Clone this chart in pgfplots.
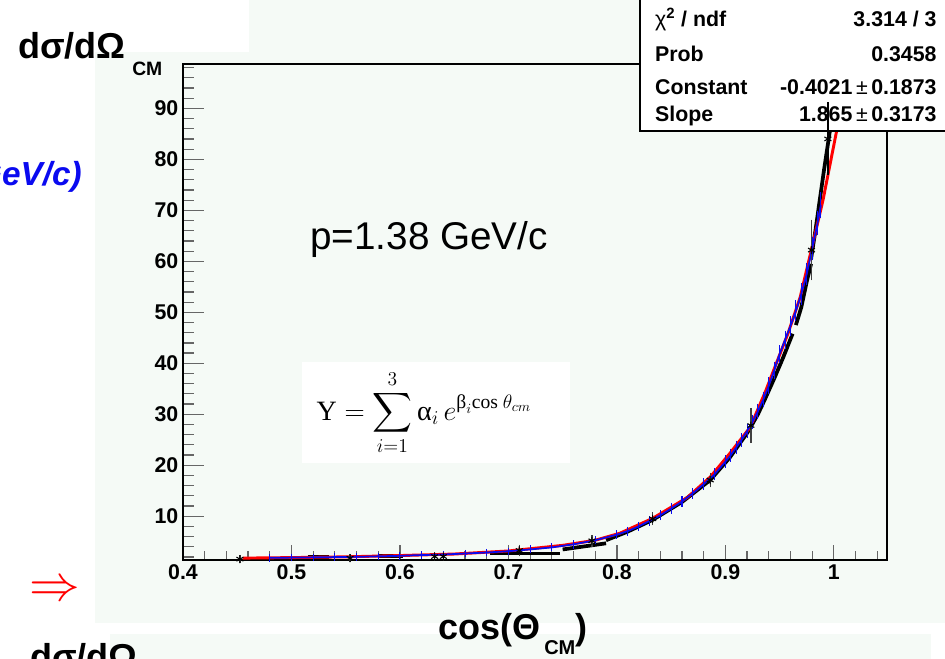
\RequirePackage{fix-cm}
\documentclass[border=0pt]{standalone}
\usepackage{amsmath}
\usepackage{fontspec}
\setmainfont{Liberation Sans}
\newfontfamily\serif{Liberation Serif}
\usepackage{pgfplots}
\pgfplotsset{compat=1.18}
\definecolor{bg}{RGB}{245,250,246}
\definecolor{rootblue}{RGB}{10,10,240}
\begin{document}
\begin{tikzpicture}
\path[use as bounding box] (0,0) rectangle (708.75pt,494.25pt);
\clip (0,0) rectangle (708.75pt,494.25pt);
\begin{scope}[x=0.75pt,y=0.75pt]
  \fill[white] (0,0) rectangle (945,659);
  \fill[bg] (95,607) rectangle (945,36);
  \fill[bg] (249,659) rectangle (945,607);
  \fill[bg] (110,25) rectangle (931,0);
\end{scope}
\begin{axis}[
  at={(137.25pt,74.25pt)}, anchor=south west,
  scale only axis, width=528pt, height=372pt,
  xmin=0.4, xmax=1.049, ymin=1.43, ymax=98.69,
  clip=false,
  axis line style={black, line width=0.9pt},
  tick align=inside, tick pos=left,
  xtick={0.4,0.5,0.6,0.7,0.8,0.9,1},
  minor xtick={0.42,0.44,...,1.045},
  ytick={10,20,...,90},
  minor ytick={2,4,...,98},
  tick style={black!60, line width=0.9pt},
  xtick style={/pgfplots/major tick length=11pt,/pgfplots/minor tick length=6.5pt},
  ytick style={/pgfplots/major tick length=15.5pt,/pgfplots/minor tick length=8pt},
  ticklabel style={font=\fontsize{16}{16}\selectfont\bfseries},
  /pgf/number format/assume math mode=true,
]
% black thick segments
\addplot[black, line width=2.8pt] coordinates {(0.515,2.05) (0.535,2.05)};
\addplot[black, line width=2.8pt] coordinates {(0.58,2.25) (0.603,2.25)};
\addplot[black, line width=2.8pt] coordinates {(0.683,2.7) (0.748,2.7)};
\addplot[black, line width=2.8pt] coordinates {(0.75,3.5) (0.79,4.7)};
\addplot[black, line width=2.8pt] coordinates {(0.79,5.3) (0.81,7.0) (0.833,9.3) (0.86,12.8) (0.886,17.1) (0.904,21.5) (0.92,26.3) (0.93,30) (0.937,33.2) (0.945,37) (0.953,41) (0.962,45.8)};
\addplot[black, line width=2.8pt] coordinates {(0.965,47.5) (0.970,51) (0.975,56) (0.979,59.5)};
\addplot[black, line width=2.8pt] coordinates {(0.979,60.5) (0.983,66) (0.987,72) (0.991,78) (0.9963,85.5)};
% red fit
\addplot[red, line width=2.2pt] coordinates {
(0.455,1.8) (0.50,1.9) (0.55,2.05) (0.60,2.3) (0.65,2.6) (0.70,3.2) (0.75,4.3)
(0.78,5.3) (0.803,6.7) (0.833,9.6) (0.865,13.7) (0.886,17.7) (0.904,22.3)
(0.923,27.5) (0.937,34.5) (0.947,40) (0.958,46) (0.969,53) (0.979,62)
(0.990,72) (1.0025,85.5)};
% blue data
\addplot[rootblue, line width=1.3pt,
  error bars/.cd, y dir=both, y explicit,
  error bar style={line width=0.8pt, rootblue},
  error mark options={rootblue, mark size=2pt, line width=0.8pt}]
coordinates {
(0.48,1.85) +- (0,0.2) (0.50,1.9) +- (0,0.2) (0.52,1.95) +- (0,0.2)
(0.54,2.0) +- (0,0.2) (0.56,2.05) +- (0,0.2) (0.58,2.15) +- (0,0.2)
(0.60,2.25) +- (0,0.2) (0.62,2.4) +- (0,0.2) (0.64,2.5) +- (0,0.2)
(0.66,2.7) +- (0,0.2) (0.68,2.9) +- (0,0.2) (0.70,3.15) +- (0,0.2)
(0.72,3.5) +- (0,0.25) (0.74,3.9) +- (0,0.25) (0.76,4.5) +- (0,0.3)
(0.78,5.3) +- (0,0.3) (0.80,6.4) +- (0,0.35) (0.81,7.1) +- (0,0.35)
(0.82,8.0) +- (0,0.4) (0.83,9.1) +- (0,0.4) (0.84,10.2) +- (0,0.45)
(0.85,11.5) +- (0,0.5) (0.86,12.9) +- (0,0.5) (0.87,14.5) +- (0,0.55)
(0.88,16.3) +- (0,0.6) (0.89,18.2) +- (0,0.65) (0.90,20.7) +- (0,0.7)
(0.905,22.0) +- (0,0.75) (0.91,23.5) +- (0,0.8) (0.915,25.0) +- (0,0.8)
(0.92,26.7) +- (0,0.85) (0.925,28.5) +- (0,0.9) (0.93,30.6) +- (0,0.95)
(0.935,32.9) +- (0,1.0) (0.94,35.6) +- (0,1.1) (0.945,38.6) +- (0,1.2)
(0.95,41.8) +- (0,1.25) (0.955,44.6) +- (0,1.3) (0.96,47.3) +- (0,1.4)
(0.965,50.3) +- (0,1.5) (0.97,53.6) +- (0,1.6) (0.975,57.5) +- (0,1.7)
(0.98,62.5) +- (0,1.8) (0.985,67.5) +- (0,1.9) (0.988,71) +- (0,2.0)};
% black points
\addplot[only marks, mark=asterisk, mark size=3pt, black, mark options={line width=0.8pt},
  error bars/.cd, y dir=both, y explicit,
  error bar style={line width=1pt, black!75},
  error mark options={black!75, mark size=2.5pt, line width=1pt}]
coordinates {
(0.4525,1.6) +- (0,0.2) (0.554,1.8) +- (0,0.2) (0.632,2.1) +- (0,0.2)
(0.640,2.1) +- (0,0.2) (0.71,3.3) +- (0,0.5) (0.777,5.2) +- (0,0.5)
(0.833,9.5) +- (0,0.6) (0.886,17.1) +- (0,0.8) (0.9235,27.8) +- (0,2.8)
(0.9794,62.2) +- (0,5.3)};
% stats box
\draw[fill=white, line width=0.9pt] (axis cs:0.8212,85.55) rectangle (axis cs:1.12,113);
\begin{scope}[every node/.style={font=\fontsize{16}{16}\selectfont\bfseries, inner sep=0pt}]
\node[anchor=base west] at (axis cs:0.835,106.1) {{\mdseries χ}\textsuperscript{2} / ndf};
\node[anchor=base east] at (axis cs:1.0949,106.1) {3.314 / 3};
\node[anchor=base west] at (axis cs:0.835,99.1) {Prob};
\node[anchor=base east] at (axis cs:1.0949,99.1) {0.3458};
\node[anchor=base west] at (axis cs:0.835,92.8) {Constant};
\node[anchor=base east] at (axis cs:1.0949,92.8) {-0.4021{\mdseries\,±}\,0.1873};
\node[anchor=base west] at (axis cs:0.835,87.5) {Slope};
\node[anchor=base east] at (axis cs:1.0949,87.5) {1.865{\mdseries\,±}\,0.3173};
\end{scope}
% top black point drawn over the box
\addplot[only marks, mark=asterisk, mark size=3pt, black, mark options={line width=0.8pt},
  error bars/.cd, y dir=both, y explicit,
  error bar style={line width=1pt, black},
  error mark options={black, mark size=2.5pt, line width=1pt}]
coordinates {(0.9945,84) +- (0,6.5)};
\end{axis}
\begin{scope}[x=0.75pt,y=0.75pt]
  \node[anchor=base west, inner sep=0pt] at (18,600) {\fontsize{27}{27}\selectfont\bfseries dσ/dΩ};
  \node[anchor=base west, inner sep=0pt] at (132,583) {\fontsize{14.5}{14.5}\selectfont\bfseries CM};
  \node[anchor=base east, inner sep=0pt, text=rootblue] at (82,473) {\fontsize{25}{25}\selectfont\bfseries\itshape (1.38 GeV/c)};
  \node[anchor=base west, inner sep=0pt] at (310,409) {\fontsize{29}{29}\selectfont p=1.38 GeV/c};
  \fill[white] (302,297) rectangle (570,196);
  \node[inner sep=0pt] at (424,246) {\fontsize{21}{25}\selectfont $\displaystyle \text{\serif Y}=\sum_{i=1}^{3}\text{\serif α}_i\, e^{\text{\serif β}_i\text{\serif cos }\theta_{cm}}$};
  \node[anchor=west, inner sep=0pt, text=red] at (29,68) {\fontsize{38}{38}\selectfont $\Rightarrow$};
  \node[anchor=base west, inner sep=0pt] at (438,19) {\fontsize{27}{27}\selectfont\bfseries cos(Θ\hspace{3pt}\raisebox{-11pt}{\fontsize{15}{15}\selectfont CM})};
  \node[anchor=base west, inner sep=0pt] at (30,-11) {\fontsize{27}{27}\selectfont\bfseries dσ/dΩ};
\end{scope}
\end{tikzpicture}
\end{document}
